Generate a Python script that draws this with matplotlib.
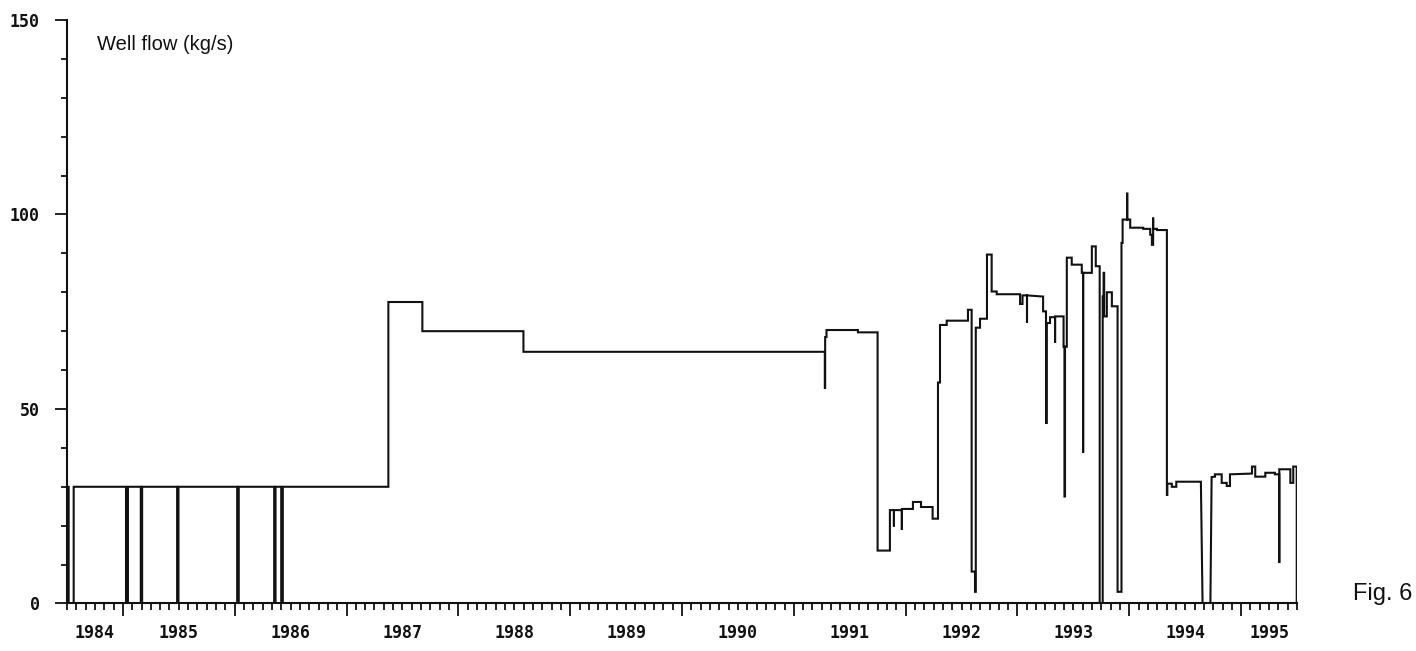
import matplotlib
matplotlib.use('Agg')
import matplotlib.pyplot as plt
from matplotlib.ticker import MultipleLocator, NullFormatter
import matplotlib.transforms as mtransforms

# well flow trace (decimal year, kg/s), vertices of the recorded step line
t = [1984.500, 1984.515, 1984.515, 1984.560, 1984.560,
     1985.028, 1985.028, 1985.045, 1985.045,
     1985.160, 1985.160, 1985.172, 1985.172,
     1985.485, 1985.485, 1985.497, 1985.497,
     1986.022, 1986.022, 1986.036, 1986.036,
     1986.353, 1986.353, 1986.365, 1986.365,
     1986.416, 1986.416, 1986.430, 1986.430,
     1987.374, 1987.374, 1987.678, 1987.678, 1988.582, 1988.582,
     1991.277, 1991.277, 1991.280, 1991.280, 1991.292, 1991.292,
     1991.573, 1991.573, 1991.749, 1991.749, 1991.859, 1991.859,
     1991.895, 1991.895, 1991.895, 1991.966, 1991.966, 1991.966,
     1992.065, 1992.065, 1992.137, 1992.137, 1992.241, 1992.241,
     1992.289, 1992.289, 1992.307, 1992.307, 1992.367, 1992.367,
     1992.557, 1992.557, 1992.590, 1992.590, 1992.620, 1992.620,
     1992.627, 1992.627, 1992.665, 1992.665, 1992.727, 1992.727,
     1992.769, 1992.769, 1992.814, 1992.814, 1993.023, 1993.023,
     1993.045, 1993.045, 1993.085, 1993.085, 1993.085, 1993.229,
     1993.229, 1993.255, 1993.255, 1993.262, 1993.262, 1993.291,
     1993.291, 1993.336, 1993.336, 1993.336, 1993.412, 1993.412,
     1993.420, 1993.420, 1993.425, 1993.425, 1993.441, 1993.441,
     1993.485, 1993.485, 1993.575, 1993.575, 1993.587, 1993.587,
     1993.587, 1993.665, 1993.665, 1993.700, 1993.700, 1993.735,
     1993.735, 1993.762, 1993.762, 1993.770, 1993.770, 1993.775,
     1993.775, 1993.799, 1993.799, 1993.844, 1993.844, 1993.895,
     1993.895, 1993.930, 1993.930, 1993.940, 1993.940, 1993.981,
     1993.981, 1993.981, 1994.008, 1994.008, 1994.124, 1994.124,
     1994.187, 1994.187, 1994.202, 1994.202, 1994.213, 1994.213,
     1994.213, 1994.247, 1994.247, 1994.336, 1994.336, 1994.340,
     1994.340, 1994.380, 1994.380, 1994.420, 1994.420, 1994.640,
     1994.655, 1994.725, 1994.736, 1994.766, 1994.766, 1994.826,
     1994.826, 1994.871, 1994.871, 1994.900, 1994.900, 1995.097,
     1995.097, 1995.126, 1995.126, 1995.216, 1995.216, 1995.302,
     1995.302, 1995.341, 1995.341, 1995.341, 1995.362, 1995.362,
     1995.440, 1995.440, 1995.466, 1995.466, 1995.497, 1995.497]

q = [30.0, 30.0, 0.0, 0.0, 30.0,
     30.0, 0.0, 0.0, 30.0,
     30.0, 0.0, 0.0, 30.0,
     30.0, 0.0, 0.0, 30.0,
     30.0, 0.0, 0.0, 30.0,
     30.0, 0.0, 0.0, 30.0,
     30.0, 0.0, 0.0, 30.0,
     30.0, 77.5, 77.5, 70.0, 70.0, 64.7,
     64.7, 55.4, 55.4, 68.5, 68.5, 70.3,
     70.3, 69.7, 69.7, 13.6, 13.6, 24.0,
     24.0, 19.8, 24.0, 24.0, 18.9, 24.3,
     24.3, 26.1, 26.1, 24.8, 24.8, 21.8,
     21.8, 56.8, 56.8, 71.6, 71.6, 72.7,
     72.7, 75.5, 75.5, 8.2, 8.2, 3.0,
     3.0, 70.9, 70.9, 73.2, 73.2, 89.7,
     89.7, 80.2, 80.2, 79.5, 79.5, 77.0,
     77.0, 79.2, 79.2, 72.2, 79.2, 78.9,
     75.1, 75.1, 46.4, 46.4, 72.1, 72.1,
     73.6, 73.6, 67.0, 73.8, 73.8, 66.0,
     66.0, 27.5, 27.5, 66.0, 66.0, 88.9,
     88.9, 87.1, 87.1, 85.0, 85.0, 38.7,
     85.0, 85.0, 91.8, 91.8, 86.7, 86.7,
     0.0, 0.0, 78.9, 78.9, 85.0, 85.0,
     73.8, 73.8, 80.0, 80.0, 76.4, 76.4,
     3.0, 3.0, 92.7, 92.7, 98.7, 98.7,
     105.6, 98.7, 98.7, 96.6, 96.6, 96.3,
     96.3, 94.8, 94.8, 92.2, 92.2, 99.2,
     96.3, 96.3, 96.0, 96.0, 27.9, 27.9,
     30.8, 30.8, 30.0, 30.0, 31.3, 31.3,
     0.0, 0.0, 32.5, 32.6, 33.2, 33.2,
     31.0, 31.0, 30.2, 30.2, 33.2, 33.4,
     35.2, 35.2, 32.6, 32.6, 33.6, 33.6,
     33.2, 33.2, 10.4, 34.5, 34.5, 34.5,
     34.5, 31.0, 31.0, 35.2, 35.2, 0.0]

years = list(range(1984, 1996))
x_start, x_end = 1984.5, 1995.5

plt.rcParams['font.family'] = ['DejaVu Sans Mono']

fig = plt.figure(figsize=(14.16, 6.51), dpi=100)
ax = fig.add_axes([0.0473, 0.0730, 0.8687, 0.8963])

ax.plot(t, q, color='#111111', lw=1.5, solid_joinstyle='miter')

ax.set_xlim(x_start, x_end)
ax.set_ylim(0, 150)

for s in ['top', 'right']:
    ax.spines[s].set_visible(False)
for s in ['left', 'bottom']:
    ax.spines[s].set_linewidth(1.5)
    ax.spines[s].set_color('#111111')

ax.yaxis.set_major_locator(MultipleLocator(50))
ax.yaxis.set_minor_locator(MultipleLocator(10))
ax.xaxis.set_major_locator(MultipleLocator(1))
ax.xaxis.set_minor_locator(MultipleLocator(1 / 12))
ax.xaxis.set_major_formatter(NullFormatter())

ax.tick_params(axis='y', which='major', direction='out', length=8.5, width=1.3,
               pad=11, labelsize=12, colors='#111111')
ax.tick_params(axis='y', which='minor', direction='out', length=4.5, width=1.3,
               colors='#111111')
ax.tick_params(axis='x', which='major', direction='out', length=9.5, width=1.3,
               colors='#111111')
ax.tick_params(axis='x', which='minor', direction='out', length=5, width=1.3,
               colors='#111111')
for lab in ax.get_yticklabels():
    lab.set_fontweight('bold')

# year labels centred on the visible part of each year
trans = mtransforms.blended_transform_factory(ax.transData, ax.transAxes)
for y in years:
    lo, hi = max(y, x_start), min(y + 1, x_end)
    ax.text((lo + hi) / 2, -0.05, str(y), transform=trans, ha='center', va='center',
            fontsize=12, fontweight='bold', color='#111111')

ax.text(97 / 1416, 1 - 45 / 651, 'Well flow (kg/s)', transform=fig.transFigure,
        ha='left', va='center', fontsize=14.5, family='Liberation Sans', color='#111111')
fig.text(1353 / 1416, 1 - 594 / 651, 'Fig. 6', ha='left', va='center',
         fontsize=17, family='Liberation Sans', color='#111111')

fig.savefig('out.png', dpi=100)
